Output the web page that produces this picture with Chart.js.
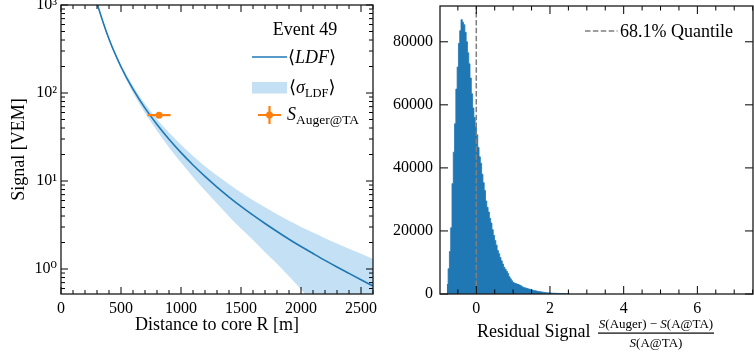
<!DOCTYPE html>
<html><head><meta charset="utf-8">
<script src="https://cdn.jsdelivr.net/npm/chart.js@4.4.1/dist/chart.umd.min.js"></script>
<style>
html,body{margin:0;padding:0;background:#fff;width:754px;height:354px;overflow:hidden}
#l{position:absolute;left:0;top:0}
#r{position:absolute;left:380px;top:0}
</style></head><body>
<canvas id="l" width="380" height="354"></canvas>
<canvas id="r" width="374" height="354"></canvas>
<script>
// ---------- data: left panel (lateral distribution) ----------
const ldfR     = [250, 300, 400, 500, 600, 700, 800, 900, 1000, 1100, 1200, 1300, 1400, 1500, 1600, 1700, 1800, 1900, 2000, 2100, 2200, 2300, 2400, 2500, 2600];
const ldfS     = [1875, 1054, 410, 198.6, 110.4, 67.3, 43.8, 29.8, 21.0, 15.2, 11.27, 8.53, 6.58, 5.15, 4.09, 3.29, 2.67, 2.18, 1.80, 1.50, 1.253, 1.054, 0.891, 0.755, 0.641];
const ldfUpper = [1931, 1086, 426, 210.5, 120.3, 75.4, 50.4, 35.5, 25.8, 19.3, 14.76, 11.52, 9.21, 7.42, 6.05, 5.03, 4.19, 3.53, 3.01, 2.60, 2.24, 1.95, 1.70, 1.49, 1.30];
const ldfLower = [1819, 1022, 394, 186.7, 100.5, 59.2, 37.2, 24.1, 16.2, 11.1, 7.78, 5.54, 3.95, 2.88, 2.13, 1.55, 1.15, 0.83, 0.59, 0.405, 0.263, 0.158, 0.080, 0.023, 0.01];
const augerR    = [817];
const augerS    = [56];
const augerRErr = [96];
const augerSErr = [3];
const ldfXTicks = [0, 500, 1000, 1500, 2000, 2500];
const ldfYTicks = [1, 10, 100, 1000];
const ldfYTickLabels = ['10\u2070', '10\u00B9', '10\u00B2', '10\u00B3'];
const eventTitle = 'Event 49';

// ---------- data: right panel (residual histogram) ----------
const histStart = -0.8;
const histWidth = 0.035;
const histCounts = [
  3000, 8000, 13500, 21000, 35000, 45000, 54000, 65000, 72000, 79500,
  83500, 87000, 86200, 85400, 83000, 80000, 76500, 73000, 68500, 63500,
  59000, 56000, 53000, 50500, 46500, 43500, 41500, 38000, 35300, 32800,
  29500, 27500, 26000, 24000, 22500, 20400, 18600, 17000, 15500, 13800,
  12800, 11600, 10500, 9500, 8500, 7850, 7200, 6500, 5500, 4800,
  4200, 3700, 3450, 3300, 3150, 3000, 2850, 2600, 2300, 2100,
  1950, 1850, 1750, 1600, 1500, 1400, 1250, 1100, 1050, 950,
  850, 780, 730, 650, 580, 520, 460, 400, 370, 340,
  310, 280, 260, 240, 210, 200, 180, 160, 150, 135,
  120, 110, 100, 90, 80];
const quantile68 = [0];
const histXTicks = [0, 2, 4, 6];
const histYTicks = [0, 20000, 40000, 60000, 80000];

// ---------- styling ----------
const FF = '"Liberation Serif", "DejaVu Serif", serif';
Chart.defaults.font.family = FF;
Chart.defaults.color = '#000';
const BLUE = '#1f77b4', ORANGE = '#ff7f0e', BAND = '#c3e0f4';

function richText(ctx, parts, x, y) {
  ctx.textAlign = 'left'; ctx.textBaseline = 'alphabetic';
  for (const [t, f, dy] of parts) {
    ctx.font = f; ctx.fillText(t, x, y + (dy || 0));
    x += ctx.measureText(t).width;
  }
  return x;
}
function richWidth(ctx, parts) {
  let w = 0;
  for (const [t, f] of parts) { ctx.font = f; w += ctx.measureText(t).width; }
  return w;
}

function axesPlugin(id, spec) {
  return {
    id,
    afterDatasetsDraw(chart) {
      const {ctx, chartArea: a, scales: {x, y}} = chart;
      ctx.save();
      ctx.strokeStyle = '#000'; ctx.lineWidth = 1;
      const inX = p => p >= a.left - 0.5 && p <= a.right + 0.5;
      const inY = p => p >= a.top - 0.5 && p <= a.bottom + 0.5;
      const tx = (vals, len) => vals.forEach(v => {
        const p = x.getPixelForValue(v); if (!inX(p)) return;
        ctx.beginPath(); ctx.moveTo(p, a.bottom); ctx.lineTo(p, a.bottom - len);
        ctx.moveTo(p, a.top); ctx.lineTo(p, a.top + len); ctx.stroke();
      });
      const ty = (vals, len) => vals.forEach(v => {
        const p = y.getPixelForValue(v); if (!inY(p)) return;
        ctx.beginPath(); ctx.moveTo(a.left, p); ctx.lineTo(a.left + len, p);
        ctx.moveTo(a.right, p); ctx.lineTo(a.right - len, p); ctx.stroke();
      });
      tx(spec.xMajor, spec.major); tx(spec.xMinor, spec.minor);
      ty(spec.yMajor, spec.major); ty(spec.yMinor, spec.minor);
      ctx.strokeStyle = '#1a1a1a'; ctx.lineWidth = 1.3;
      ctx.strokeRect(a.left, a.top, a.right - a.left, a.bottom - a.top);
      ctx.restore();
    }
  };
}

// minor tick positions
const ldfXMinor = [];
for (let v = 100; v <= 2600; v += 100) if (v % 500) ldfXMinor.push(v);
const ldfYMinor = [];
for (const d of [0.1, 1, 10, 100]) for (let m = 2; m <= 9; m++) ldfYMinor.push(m * d);
const histXMinor = [];
for (let v = -0.5; v <= 7.5; v += 0.5) if (Math.abs(v / 2 - Math.round(v / 2)) > 1e-6) histXMinor.push(v);

// ---------- left chart ----------
const errorBarPlugin = {
  id: 'errorBars',
  beforeDatasetDraw(chart, args) {
    if (args.index !== 3) return;
    const {ctx, scales: {x, y}} = chart;
    ctx.save();
    ctx.strokeStyle = ORANGE; ctx.lineWidth = 2.2;
    augerR.forEach((r, i) => {
      const px = x.getPixelForValue(r), py = y.getPixelForValue(augerS[i]);
      ctx.beginPath();
      ctx.moveTo(x.getPixelForValue(r - augerRErr[i]), py);
      ctx.lineTo(x.getPixelForValue(r + augerRErr[i]), py);
      ctx.moveTo(px, y.getPixelForValue(augerS[i] - augerSErr[i]));
      ctx.lineTo(px, y.getPixelForValue(augerS[i] + augerSErr[i]));
      ctx.stroke();
    });
    ctx.restore();
  }
};

const leftLegend = {
  id: 'leftLegend',
  afterDraw(chart) {
    const ctx = chart.ctx;
    ctx.save();
    ctx.fillStyle = '#000';
    ctx.font = '18px ' + FF; ctx.textAlign = 'center'; ctx.textBaseline = 'alphabetic';
    ctx.fillText(eventTitle, 305, 35);
    ctx.strokeStyle = BLUE; ctx.lineWidth = 1.6;
    ctx.beginPath(); ctx.moveTo(252, 57); ctx.lineTo(287, 57); ctx.stroke();
    richText(ctx, [['\u27E8', '18px ' + FF], ['LDF', 'italic 18px ' + FF], ['\u27E9', '18px ' + FF]], 288, 63);
    ctx.fillStyle = BAND; ctx.fillRect(252, 82, 35, 11.5);
    ctx.fillStyle = '#000';
    richText(ctx, [['\u27E8', '18px ' + FF], ['\u03C3', 'italic 18px ' + FF], ['LDF', '12.5px ' + FF, 4], ['\u27E9', '18px ' + FF]], 289, 93);
    ctx.strokeStyle = ORANGE; ctx.lineWidth = 2.2;
    ctx.beginPath(); ctx.moveTo(258, 115); ctx.lineTo(281, 115);
    ctx.moveTo(269.5, 106); ctx.lineTo(269.5, 124); ctx.stroke();
    ctx.fillStyle = ORANGE; ctx.beginPath(); ctx.arc(269.5, 115, 3.5, 0, Math.PI * 2); ctx.fill();
    ctx.fillStyle = '#000';
    richText(ctx, [['S', 'italic 18px ' + FF], ['Auger@TA', '13.5px ' + FF, 4]], 287, 120);
    ctx.restore();
  }
};

new Chart(document.getElementById('l'), {
  type: 'line',
  data: {
    datasets: [
      {label: 'upper', data: ldfR.map((r, i) => ({x: r, y: ldfUpper[i]})), borderWidth: 0, pointRadius: 0,
       fill: '+1', backgroundColor: BAND, borderColor: 'rgba(0,0,0,0)', order: 2, cubicInterpolationMode: 'monotone'},
      {label: 'lower', data: ldfR.map((r, i) => ({x: r, y: ldfLower[i]})), borderWidth: 0, pointRadius: 0,
       fill: false, borderColor: 'rgba(0,0,0,0)', order: 3, cubicInterpolationMode: 'monotone'},
      {label: 'LDF', data: ldfR.map((r, i) => ({x: r, y: ldfS[i]})), borderWidth: 1.6, pointRadius: 0,
       fill: false, borderColor: BLUE, order: 1, cubicInterpolationMode: 'monotone'},
      {type: 'scatter', label: 'S', data: augerR.map((r, i) => ({x: r, y: augerS[i]})), pointRadius: 3.5,
       backgroundColor: ORANGE, borderColor: ORANGE, borderWidth: 0, order: 0}
    ]
  },
  options: {
    responsive: false, animation: false, devicePixelRatio: 1,
    layout: {padding: {top: 5, right: 7, left: 0, bottom: 0}},
    plugins: {legend: {display: false}, tooltip: {enabled: false}},
    scales: {
      x: {type: 'linear', min: 0, max: 2600, offset: false,
          grid: {display: false, drawTicks: false}, border: {display: false},
          ticks: {font: {size: 16}, padding: 5, maxRotation: 0, autoSkip: false, callback: v => String(v)},
          afterBuildTicks(s) { s.ticks = ldfXTicks.map(v => ({value: v})); },
          afterFit(s) { s.height = 60; s.paddingLeft = 0; s.paddingRight = 0; },
          title: {display: true, text: 'Distance to core R [m]', font: {size: 18}, padding: {top: 0, bottom: 18}}},
      y: {type: 'logarithmic', min: 0.52, max: 1000,
          grid: {display: false, drawTicks: false}, border: {display: false},
          ticks: {font: {size: 16}, padding: 4, autoSkip: false,
                  callback: v => { const i = ldfYTicks.indexOf(v); return i >= 0 ? ldfYTickLabels[i] : ''; }},
          afterBuildTicks(s) { s.ticks = ldfYTicks.map(v => ({value: v})); },
          afterFit(s) { s.width = 61; s.paddingTop = 0; s.paddingBottom = 0; },
          title: {display: true, text: 'Signal [VEM]', font: {size: 18}, padding: {top: 8, bottom: 0}}}
    }
  },
  plugins: [errorBarPlugin,
            axesPlugin('axesL', {xMajor: ldfXTicks, xMinor: ldfXMinor, yMajor: ldfYTicks, yMinor: ldfYMinor, major: 7, minor: 4}),
            leftLegend]
});

// ---------- right chart ----------
const rightExtras = {
  id: 'rightExtras',
  afterDatasetsDraw(chart) {
    const {ctx, chartArea: a, scales: {x}} = chart;
    ctx.save();
    ctx.strokeStyle = '#7f7f7f'; ctx.lineWidth = 1.5; ctx.setLineDash([5.5, 2.4]);
    quantile68.forEach(q => {
      const p = x.getPixelForValue(q);
      ctx.beginPath(); ctx.moveTo(p, a.bottom); ctx.lineTo(p, a.top); ctx.stroke();
    });
    ctx.restore();
  },
  afterDraw(chart) {
    const ctx = chart.ctx;
    ctx.save();
    ctx.strokeStyle = '#7f7f7f'; ctx.lineWidth = 1.5; ctx.setLineDash([5.5, 2.4]);
    ctx.beginPath(); ctx.moveTo(205, 31); ctx.lineTo(237.5, 31); ctx.stroke();
    ctx.setLineDash([]);
    ctx.fillStyle = '#000'; ctx.font = '18px ' + FF; ctx.textAlign = 'left'; ctx.textBaseline = 'alphabetic';
    ctx.fillText('68.1% Quantile', 240, 37);
    ctx.fillText('Residual Signal', 97, 337);
    const fs = '13px ' + FF, fi = 'italic 13px ' + FF;
    const num = [['S', fi], ['(Auger) \u2212 ', fs], ['S', fi], ['(A@TA)', fs]];
    const den = [['S', fi], ['(A@TA)', fs]];
    const x0 = 218, x1 = 334, cx = (x0 + x1) / 2;
    richText(ctx, num, cx - richWidth(ctx, num) / 2, 328);
    richText(ctx, den, cx - richWidth(ctx, den) / 2, 347);
    ctx.fillRect(x0, 332.5, x1 - x0, 1.2);
    ctx.restore();
  }
};

// histogram drawn as one filled step outline: each count holds over its bin [edge_i, edge_i+1)
const histData = histCounts.map((c, i) => ({x: histStart + histWidth * i, y: c}));
histData.push({x: histStart + histWidth * histCounts.length, y: 0});

new Chart(document.getElementById('r'), {
  type: 'line',
  data: {
    datasets: [{
      label: 'residual',
      data: histData,
      stepped: 'before', fill: 'origin',
      backgroundColor: BLUE, borderColor: BLUE, borderWidth: 0.8, pointRadius: 0
    }]
  },
  options: {
    responsive: false, animation: false, devicePixelRatio: 1,
    layout: {padding: {top: 6, right: 1, left: 0, bottom: 0}},
    plugins: {legend: {display: false}, tooltip: {enabled: false}},
    scales: {
      x: {type: 'linear', min: -0.985, max: 7.51, offset: false,
          grid: {display: false, drawTicks: false}, border: {display: false},
          ticks: {font: {size: 16}, padding: 5, maxRotation: 0, autoSkip: false, callback: v => String(v)},
          afterBuildTicks(s) { s.ticks = histXTicks.map(v => ({value: v})); },
          afterFit(s) { s.height = 60; s.paddingLeft = 0; s.paddingRight = 0; }},
      y: {type: 'linear', min: 0, max: 91350,
          grid: {display: false, drawTicks: false}, border: {display: false},
          ticks: {font: {size: 16}, padding: 7, autoSkip: false, callback: v => String(v)},
          afterBuildTicks(s) { s.ticks = histYTicks.map(v => ({value: v})); },
          afterFit(s) { s.width = 60; s.paddingTop = 0; s.paddingBottom = 0; }}
    }
  },
  plugins: [rightExtras,
            axesPlugin('axesR', {xMajor: histXTicks, xMinor: histXMinor, yMajor: histYTicks, yMinor: [], major: 8, minor: 4.5})]
});
</script>
</body></html>
